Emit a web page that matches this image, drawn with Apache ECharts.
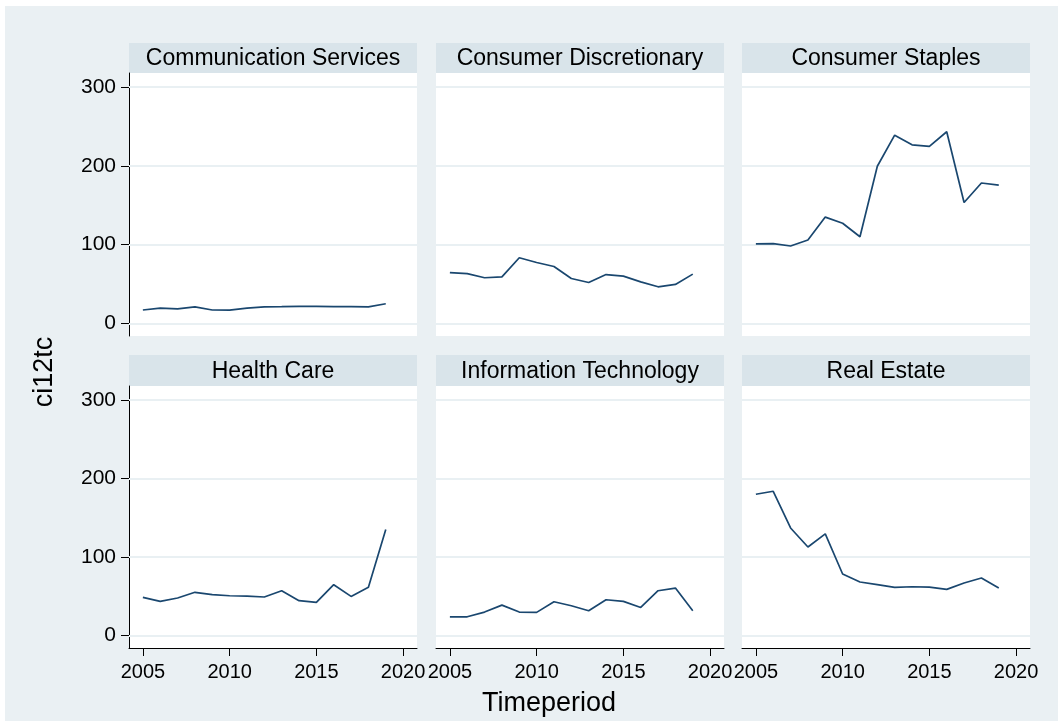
<!DOCTYPE html>
<html>
<head>
<meta charset="utf-8">
<script src="https://cdn.jsdelivr.net/npm/echarts@6/dist/echarts.min.js"></script>
<style>
  html, body { margin: 0; padding: 0; background: #fff; }
  #chart { width: 1058px; height: 721px; }
</style>
</head>
<body>
<div id="chart"></div>
<script>
const years = [2005, 2006, 2007, 2008, 2009, 2010, 2011, 2012, 2013, 2014, 2015, 2016, 2017, 2018, 2019]

const sectors = [
  'Communication Services', 'Consumer Discretionary', 'Consumer Staples',
  'Health Care', 'Information Technology', 'Real Estate',
]

const commServices = [17, 19.5, 18.5, 21, 17, 16.8, 19.5, 21, 21.3, 21.7, 21.7, 21.2, 21.2, 21, 25]
const consDiscretionary = [64.5, 63.3, 58, 59, 83.4, 77.4, 72.3, 57, 52, 62, 60, 52.8, 46.5, 49.5, 62.6]
const consStaples = [101, 101.3, 98.3, 106, 135, 127.2, 110, 199.6, 239, 226.8, 224.7, 243.4, 153.6, 178.3, 175.7]
const healthCare = [48.5, 43.4, 47.7, 55, 52, 50.6, 50.2, 49, 57, 44.3, 42.1, 64.7, 49.8, 61.3, 135]
const infoTech = [23.8, 23.8, 29.8, 38.7, 29.8, 29.4, 43, 37.9, 31.5, 45.5, 43.4, 35.7, 57, 60.4, 31.5]
const realEstate = [180, 183.8, 137, 112.8, 129.4, 78.3, 68.1, 64.7, 61.3, 62.1, 61.7, 58.7, 66.8, 73.2, 60.4]

const sectorValues = [commServices, consDiscretionary, consStaples, healthCare, infoTech, realEstate]

const yTicks = [0, 100, 200, 300]
const xTicks = [2005, 2010, 2015, 2020]

const font = '"Liberation Sans", Arial, Helvetica, sans-serif'
const lineColor = '#1a476f'
const gridLineColor = '#e9f0f3'
const bgColor = '#eaf0f3'
const stripColor = '#d9e4ea'

// panel layout
const colLeft = [129, 436, 742]
const colWidth = 288
const rowTop = [73, 386]
const rowHeight = [263, 262]
const stripTop = [43, 355]
const stripHeight = [30, 31]

const grids = []
const xAxes = []
const yAxes = []
const series = []
const graphics = [
  { type: 'rect', shape: { x: 5, y: 6, width: 1053, height: 715 }, style: { fill: bgColor }, silent: true, z: -10 },
]

sectors.forEach((name, i) => {
  const row = Math.floor(i / 3)
  const col = i % 3
  const isBottom = row === 1
  const isLeft = col === 0

  grids.push({
    left: colLeft[col],
    top: rowTop[row],
    width: colWidth,
    height: rowHeight[row],
    show: true,
    backgroundColor: '#fff',
    borderWidth: 0,
  })

  graphics.push({
    type: 'rect',
    shape: { x: colLeft[col], y: stripTop[row], width: colWidth, height: stripHeight[row] },
    style: { fill: stripColor },
    silent: true,
  })
  graphics.push({
    type: 'text',
    x: colLeft[col] + colWidth / 2,
    y: stripTop[row] + stripHeight[row] / 2 + 1,
    style: {
      text: name,
      font: '23px ' + font,
      fill: '#000',
      textAlign: 'center',
      textVerticalAlign: 'middle',
    },
    silent: true,
  })

  xAxes.push({
    gridIndex: i,
    type: 'value',
    min: 2004.2,
    max: 2020.8,
    axisLine: { show: isBottom, onZero: false, lineStyle: { color: '#000', width: 1 } },
    axisTick: { show: isBottom, inside: false, length: 8, customValues: xTicks, lineStyle: { color: '#000' } },
    axisLabel: {
      show: isBottom,
      customValues: xTicks,
      formatter: (v) => String(v),
      margin: 14,
      fontSize: 20,
      fontFamily: font,
      color: '#000',
    },
    splitLine: { show: false },
  })

  yAxes.push({
    gridIndex: i,
    type: 'value',
    min: -16,
    max: 318,
    axisLine: { show: isLeft, onZero: false, lineStyle: { color: '#000', width: 1 } },
    axisTick: { show: isLeft, inside: false, length: 8, customValues: yTicks, lineStyle: { color: '#000' } },
    axisLabel: {
      show: isLeft,
      customValues: yTicks,
      formatter: (v) => String(v),
      margin: 13,
      fontSize: 21,
      fontFamily: font,
      color: '#000',
    },
    splitLine: { show: false },
  })

  series.push({
    type: 'line',
    xAxisIndex: i,
    yAxisIndex: i,
    data: years.map((y, k) => [y, sectorValues[i][k]]),
    showSymbol: false,
    lineStyle: { color: lineColor, width: 1.7 },
    animation: false,
    markLine: {
      silent: true,
      symbol: ['none', 'none'],
      label: { show: false },
      lineStyle: { color: gridLineColor, width: 2, type: 'solid' },
      animation: false,
      z: 1,
      data: yTicks.map((v) => ({ yAxis: v })),
    },
  })
})

graphics.push({
  type: 'text',
  x: 45,
  y: 372,
  rotation: Math.PI / 2,
  style: {
    text: 'ci12tc',
    font: '27px ' + font,
    fill: '#000',
    textAlign: 'center',
    textVerticalAlign: 'middle',
  },
  silent: true,
})
graphics.push({
  type: 'text',
  x: 549,
  y: 704,
  style: {
    text: 'Timeperiod',
    font: '27px ' + font,
    fill: '#000',
    textAlign: 'center',
    textVerticalAlign: 'middle',
  },
  silent: true,
})

const chart = echarts.init(document.getElementById('chart'))
chart.setOption({
  backgroundColor: '#fff',
  animation: false,
  grid: grids,
  xAxis: xAxes,
  yAxis: yAxes,
  series: series,
  graphic: graphics,
})
</script>
</body>
</html>
